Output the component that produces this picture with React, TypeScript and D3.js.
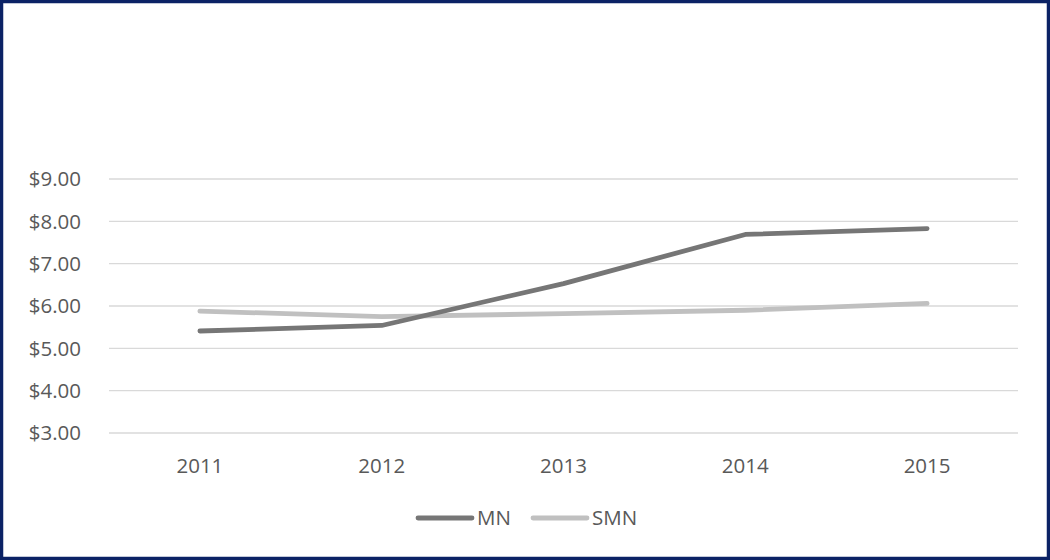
import React from "react";
import * as d3 from "d3";

const years = ["2011", "2012", "2013", "2014", "2015"];
const mnValues = [5.41, 5.54, 6.53, 7.69, 7.83];
const smnValues = [5.88, 5.75, 5.82, 5.9, 6.06];
const yTicks = [3, 4, 5, 6, 7, 8, 9];
const seriesNames = ["MN", "SMN"];

const W = 1050;
const H = 560;
const FONT = "'Open Sans', 'DejaVu Sans', sans-serif";
const FS = 20.5;

export default function App() {
  const x = d3.scaleBand<string>().domain(years).range([109, 1018]);
  const y = d3.scaleLinear().domain([3, 9]).range([433, 179]);
  const line = d3
    .line<number>()
    .x((_, i) => (x(years[i]) as number) + x.bandwidth() / 2)
    .y((d) => y(d));
  const fmt = d3.format("$.2f");
  const series = [
    { name: seriesNames[0], values: mnValues, color: "#767676" },
    { name: seriesNames[1], values: smnValues, color: "#c0c0c0" },
  ];
  const legendX = [418, 533];

  return (
    <svg
      width={W}
      height={H}
      style={{ position: "fixed", left: 0, top: 0, background: "#fff" }}
      fontFamily={FONT}
    >
      <rect x={1.5} y={1.5} width={W - 3} height={H - 3} fill="#fff" stroke="#0b2265" strokeWidth={3.5} />
      {yTicks.map((t) => (
        <g key={t}>
          <line x1={109} x2={1018} y1={y(t)} y2={y(t)} stroke="#d9d9d9" strokeWidth={1.3} />
          <text x={81} y={y(t)} dy="0.35em" textAnchor="end" fontSize={FS} fill="#595959">
            {fmt(t)}
          </text>
        </g>
      ))}
      {years.map((yr) => (
        <text
          key={yr}
          x={(x(yr) as number) + x.bandwidth() / 2}
          y={466}
          dy="0.35em"
          textAnchor="middle"
          fontSize={FS}
          fill="#595959"
        >
          {yr}
        </text>
      ))}
      {series
        .slice()
        .reverse()
        .map((s) => (
          <path
            key={s.name}
            d={line(s.values) as string}
            fill="none"
            stroke={s.color}
            strokeWidth={4.8}
            strokeLinecap="round"
            strokeLinejoin="round"
          />
        ))}
      {series.map((s, i) => (
        <g key={s.name}>
          <line
            x1={legendX[i]}
            x2={legendX[i] + 54}
            y1={518}
            y2={518}
            stroke={s.color}
            strokeWidth={4.8}
            strokeLinecap="round"
          />
          <text x={legendX[i] + 59} y={518} dy="0.35em" fontSize={FS} fill="#595959">
            {s.name}
          </text>
        </g>
      ))}
    </svg>
  );
}
